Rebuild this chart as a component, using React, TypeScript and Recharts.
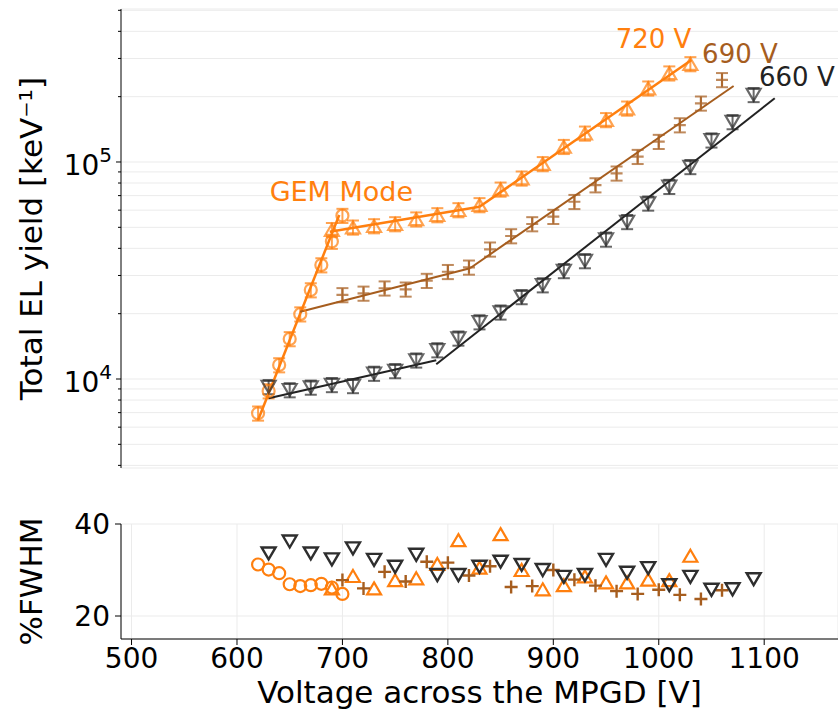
import React from 'react';
import {
  ComposedChart,
  Scatter,
  Line,
  XAxis,
  YAxis,
  CartesianGrid,
  ErrorBar,
  ReferenceDot,
} from 'recharts';

const FONT = '"DejaVu Sans", sans-serif';
const ORANGE = '#ff7f0e';
const BROWN = '#a65d1e';
const DARK = '#2e2e2e';
const GRID = '#ebebeb';

// axes
const voltTicks = [500, 600, 700, 800, 900, 1000, 1100];
const yieldTicks = [
  4000, 5000, 6000, 7000, 8000, 9000, 10000, 20000, 30000, 40000, 50000, 60000, 70000, 80000,
  90000, 100000, 200000, 300000, 400000, 500000,
];
const fwhmTicks = [20, 40];

// GEM mode (circles)
const gemVolt = [620, 630, 640, 650, 660, 670, 680, 690, 700];
const gemYield = [6950, 8800, 11600, 15300, 19900, 25700, 33500, 43000, 56600];
const gemFwhm = [31.2, 30.1, 29.3, 26.9, 26.5, 26.7, 27.0, 26.2, 24.8];

// 720 V (triangles up)
const volt720 = [690, 710, 730, 750, 770, 790, 810, 830, 850, 870, 890, 910, 930, 950, 970, 990, 1010, 1030];
const yield720 = [
  48700, 50000, 50700, 51800, 54500, 57000, 60100, 63400, 74800, 84100, 98000, 117600, 135500,
  156300, 176700, 218600, 256500, 283000,
];
const fwhm720 = [26.0, 28.7, 26.0, 27.8, 28.2, 31.3, 36.5, 30.5, 37.8, 30.0, 25.8, 26.7, 28.6, 27.3, 27.3, 27.9, 27.8, 33.1];

// 690 V (plus)
const volt690 = [700, 720, 740, 760, 780, 800, 820, 840, 860, 880, 900, 920, 940, 960, 980, 1000, 1020, 1040, 1060];
const yield690 = [
  24400, 24800, 26200, 25900, 28400, 31200, 32700, 39600, 45600, 51800, 56000, 65600, 78300, 88700,
  105800, 124100, 148000, 186400, 239000,
];
const fwhm690 = [27.8, 26.0, 29.6, 27.5, 31.8, 31.6, 28.8, 30.8, 26.3, 26.5, 30.0, 27.9, 26.6, 25.4, 24.8, 25.7, 24.6, 23.7, 25.6];

// 660 V (triangles down)
const volt660 = [
  630, 650, 670, 690, 710, 730, 750, 770, 790, 810, 830, 850, 870, 890, 910, 930, 950, 970, 990, 1010,
  1030, 1050, 1070, 1090,
];
const yield660 = [
  9200, 8900, 9150, 9400, 9300, 10600, 10900, 12200, 13600, 15400, 18300, 20300, 23900, 27100, 31500,
  35000, 44000, 53000, 64500, 77000, 95000, 126000, 153000, 204000,
];
const fwhm660 = [
  33.6, 36.2, 33.6, 32.3, 34.7, 32.2, 30.7, 33.3, 28.9, 28.9, 30.7, 31.8, 31.1, 30.0, 28.5, 28.9, 32.2,
  29.4, 30.4, 26.7, 28.5, 25.7, 25.8, 28.0,
];

// relative error on the yield
const yieldErrPct = 7.5;

// straight-line fits (two ends each)
const fitGemVolt = [620, 697];
const fitGemYield = [6470, 57000];
const fit720LowVolt = [688, 830];
const fit720LowYield = [47700, 62200];
const fit720HighVolt = [830, 1031];
const fit720HighYield = [62200, 295000];
const fit690LowVolt = [660, 821];
const fit690LowYield = [20400, 32400];
const fit690HighVolt = [821, 1071];
const fit690HighYield = [32400, 224000];
const fit660LowVolt = [630, 789];
const fit660LowYield = [8150, 12200];
const fit660HighVolt = [789, 1110];
const fit660HighYield = [11700, 196600];

const pts = (xs: number[], ys: number[], err = 0) =>
  xs.map((v, i) => ({ v, y: ys[i], e: (ys[i] * err) / 100 }));

type P = { cx?: number; cy?: number };

const ring = (color: string, r: number, w: number, op: number) => (p: P) =>
  <circle cx={p.cx} cy={p.cy} r={r} fill="none" stroke={color} strokeWidth={w} strokeOpacity={op} />;

const tri = (color: string, hw: number, hh: number, w: number, op: number, down = false) => (p: P) => {
  const cx = p.cx ?? 0;
  const cy = p.cy ?? 0;
  const d = down ? -1 : 1;
  return (
    <path
      d={`M${cx},${cy - d * hh}L${cx + hw},${cy + d * hh}L${cx - hw},${cy + d * hh}Z`}
      fill="none"
      stroke={color}
      strokeWidth={w}
      strokeOpacity={op}
    />
  );
};

const plus = (color: string, s: number, w: number, op: number) => (p: P) => {
  const cx = p.cx ?? 0;
  const cy = p.cy ?? 0;
  return (
    <path d={`M${cx - s},${cy}H${cx + s}M${cx},${cy - s}V${cy + s}`} stroke={color} strokeWidth={w} strokeOpacity={op} fill="none" />
  );
};

const LogTick = (props: any) => {
  const { x, y, payload } = props;
  const exp = Math.log10(payload.value);
  const major = Math.abs(exp - Math.round(exp)) < 1e-6;
  return (
    <g>
      <line x1={x - (major ? 5 : 3)} x2={x} y1={y} y2={y} stroke="#000" strokeWidth={1} />
      {major && (
        <text x={x - 9} y={y + 13} textAnchor="end" fontSize={28} fill="#000">
          10
          <tspan dy={-13} fontSize={20}>
            {Math.round(exp)}
          </tspan>
        </text>
      )}
    </g>
  );
};

const fitLine = (xs: number[], ys: number[], color: string, w: number, key: string) => (
  <Line
    key={key}
    data={pts(xs, ys)}
    dataKey="y"
    stroke={color}
    strokeWidth={w}
    dot={false}
    activeDot={false}
    isAnimationActive={false}
  />
);

const note = (text: string, v: number, y: number, color: string, size: number) => (
  <ReferenceDot
    key={text}
    x={v}
    y={y}
    r={0}
    fill="none"
    stroke="none"
    label={{ value: text, position: 'center', fill: color, fontSize: size }}
  />
);

const TOP_OP = 0.72;

export default function App() {
  return (
    <div style={{ position: 'absolute', left: 0, top: 0, width: 838, height: 713, background: '#fff', fontFamily: FONT }}>
      <div style={{ position: 'absolute', left: 0, top: 0 }}>
        <ComposedChart width={838} height={480} margin={{ top: 9, right: 0, bottom: 12, left: 0 }}>
          <CartesianGrid vertical={false} stroke={GRID} />
          <XAxis type="number" dataKey="v" domain={[490, 1170]} allowDataOverflow hide />
          <YAxis
            type="number"
            dataKey="y"
            scale="log"
            domain={[3890, 507000]}
            allowDataOverflow
            ticks={yieldTicks}
            interval={0}
            width={121}
            tick={(p: any) => <LogTick {...p} />}
            tickLine={false}
            tickSize={0}
            tickMargin={0}
            axisLine={{ stroke: '#000' }}
            label={{
              value: 'Total EL yield [keV⁻¹]',
              angle: -90,
              position: 'insideLeft',
              offset: 31,
              fill: '#000',
              fontSize: 31,
              style: { textAnchor: 'middle' },
            }}
          />
          <Scatter data={pts(gemVolt, gemYield, yieldErrPct)} dataKey="y" shape={ring(ORANGE, 6, 2.2, TOP_OP)} isAnimationActive={false}>
            <ErrorBar dataKey="e" direction="y" width={6} stroke={ORANGE} strokeWidth={2} strokeOpacity={TOP_OP} isAnimationActive={false} />
          </Scatter>
          <Scatter data={pts(volt720, yield720, yieldErrPct)} dataKey="y" shape={tri(ORANGE, 7, 6, 2.2, TOP_OP)} isAnimationActive={false}>
            <ErrorBar dataKey="e" direction="y" width={6} stroke={ORANGE} strokeWidth={2} strokeOpacity={TOP_OP} isAnimationActive={false} />
          </Scatter>
          <Scatter data={pts(volt690, yield690, yieldErrPct)} dataKey="y" shape={plus(BROWN, 6, 2.2, TOP_OP)} isAnimationActive={false}>
            <ErrorBar dataKey="e" direction="y" width={6} stroke={BROWN} strokeWidth={2} strokeOpacity={TOP_OP} isAnimationActive={false} />
          </Scatter>
          <Scatter data={pts(volt660, yield660, yieldErrPct)} dataKey="y" shape={tri(DARK, 7, 6, 2.2, TOP_OP, true)} isAnimationActive={false}>
            <ErrorBar dataKey="e" direction="y" width={6} stroke={DARK} strokeWidth={2} strokeOpacity={TOP_OP} isAnimationActive={false} />
          </Scatter>
          {fitLine(fitGemVolt, fitGemYield, ORANGE, 2.5, 'fg')}
          {fitLine(fit720LowVolt, fit720LowYield, ORANGE, 2.5, 'f720a')}
          {fitLine(fit720HighVolt, fit720HighYield, ORANGE, 2.5, 'f720b')}
          {fitLine(fit690LowVolt, fit690LowYield, BROWN, 2, 'f690a')}
          {fitLine(fit690HighVolt, fit690HighYield, BROWN, 2, 'f690b')}
          {fitLine(fit660LowVolt, fit660LowYield, '#222', 2, 'f660a')}
          {fitLine(fit660HighVolt, fit660HighYield, '#222', 2, 'f660b')}
          {note('GEM Mode', 699, 73500, ORANGE, 27)}
          {note('720 V', 995, 368700, ORANGE, 26)}
          {note('690 V', 1077, 314600, BROWN, 26)}
          {note('660 V', 1131, 247700, '#222', 26)}
        </ComposedChart>
      </div>
      <div style={{ position: 'absolute', left: 0, top: 500 }}>
        <ComposedChart width={838} height={213} margin={{ top: 24, right: 0, bottom: 0, left: 0 }}>
          <CartesianGrid stroke={GRID} />
          <XAxis
            type="number"
            dataKey="v"
            domain={[490, 1170]}
            allowDataOverflow
            ticks={voltTicks}
            interval={0}
            height={74}
            tick={{ fill: '#000', fontSize: 28 }}
            tickSize={6}
            tickMargin={3}
            axisLine={{ stroke: '#000' }}
            tickLine={{ stroke: '#000' }}
            label={{ value: 'Voltage across the MPGD [V]', position: 'insideBottom', offset: 10, fill: '#000', fontSize: 31 }}
          />
          <YAxis
            type="number"
            dataKey="y"
            domain={[15, 40]}
            allowDataOverflow
            ticks={fwhmTicks}
            interval={0}
            width={121}
            tick={{ fill: '#000', fontSize: 28 }}
            tickSize={6}
            tickMargin={5}
            axisLine={{ stroke: '#000' }}
            tickLine={{ stroke: '#000' }}
            label={{
              value: '%FWHM',
              angle: -90,
              position: 'insideLeft',
              offset: 31,
              fill: '#000',
              fontSize: 31,
              style: { textAnchor: 'middle' },
            }}
          />
          <Scatter data={pts(gemVolt, gemFwhm)} dataKey="y" shape={ring(ORANGE, 6, 2.2, 1)} isAnimationActive={false} />
          <Scatter data={pts(volt720, fwhm720)} dataKey="y" shape={tri(ORANGE, 7, 6, 2.2, 1)} isAnimationActive={false} />
          <Scatter data={pts(volt690, fwhm690)} dataKey="y" shape={plus(BROWN, 6.5, 2.4, 1)} isAnimationActive={false} />
          <Scatter data={pts(volt660, fwhm660)} dataKey="y" shape={tri(DARK, 7, 6, 2.4, 1, true)} isAnimationActive={false} />
        </ComposedChart>
      </div>
    </div>
  );
}
